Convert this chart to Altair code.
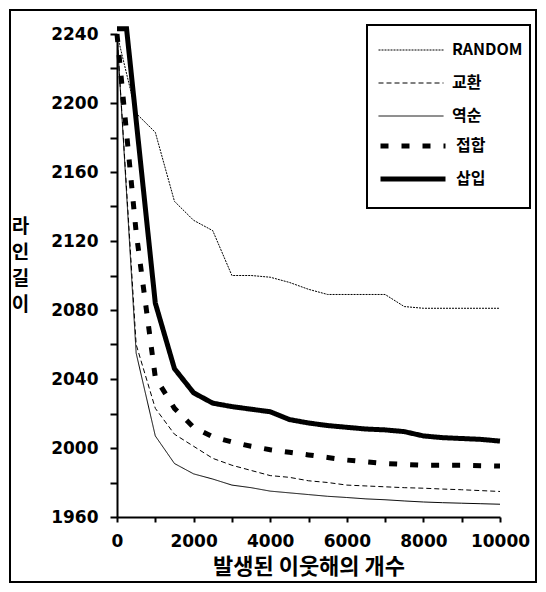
import altair as alt
import pandas as pd

thin_names = ["RANDOM", "교환", "역순"]
thick_names = ["접합", "삽입"]

x_common = [0, 500, 1000, 1500, 2000, 2500, 3000, 3500, 4000, 4500, 5000,
            5500, 6000, 6500, 7000, 7500, 8000, 8500, 9000, 9500, 10000]
x_insert = [0, 250, 1000, 1500, 2000, 2500, 3000, 3500, 4000, 4500, 5000,
            5500, 6000, 6500, 7000, 7500, 8000, 8500, 9000, 9500, 10000]

random_vals = [2240, 2194, 2183, 2143, 2132, 2126, 2100, 2100, 2099, 2096, 2092,
               2089, 2089, 2089, 2089, 2082, 2081, 2081, 2081, 2081, 2081]
swap_vals = [2240, 2060, 2023, 2008, 2001, 1994, 1990, 1987, 1984, 1983, 1981,
             1980, 1978.5, 1978, 1977.5, 1977, 1976.7, 1976.2, 1975.8, 1975.3, 1974.8]
reverse_vals = [2240, 2055, 2007, 1991, 1985, 1982, 1978.5, 1977, 1975, 1974, 1973,
                1972, 1971.3, 1970.5, 1970, 1969.3, 1968.7, 1968.3, 1968, 1967.7, 1967.4]
join_vals = [2240, 2125, 2041, 2023, 2012, 2006.5, 2003.5, 2001, 1999, 1997.5, 1996,
             1994.5, 1993, 1992, 1991, 1990.5, 1990, 1990, 1990, 1989.7, 1989.5]
insert_vals = [2243, 2243, 2084, 2046, 2032, 2026, 2024, 2022.5, 2021, 2016.5, 2014.5,
               2013, 2012, 2011, 2010.5, 2009.5, 2007, 2006, 2005.5, 2005, 2004]

y_ticks = list(range(1960, 2241, 20))
x_ticks = list(range(0, 10001, 1000))


def frame_of(names, xs_list, ys_list):
    rows = []
    for name, xs, ys in zip(names, xs_list, ys_list):
        for xv, yv in zip(xs, ys):
            rows.append({"x": xv, "y": yv, "series": name})
    return pd.DataFrame(rows)


df_thin = frame_of(thin_names, [x_common] * 3, [random_vals, swap_vals, reverse_vals])
df_thick = frame_of(thick_names, [x_common, x_insert], [join_vals, insert_vals])

W, H = 383, 483
PAD = {"left": 109, "top": 26, "right": 38, "bottom": 67}

x_enc = alt.X("x:Q",
              scale=alt.Scale(domain=[0, 10000], nice=False),
              axis=alt.Axis(values=x_ticks, format="d", labelOverlap=False, labelFlush=False,
                            labelExpr="datum.value % 2000 == 0 ? datum.label : ''",
                            title="발생된 이웃해의 개수", titleFontSize=22,
                            tickSize=5, labelPadding=11, titlePadding=7))
y_enc = alt.Y("y:Q",
              scale=alt.Scale(domain=[1960, 2240], nice=False, zero=False),
              axis=alt.Axis(values=y_ticks, format="d", labelOverlap=False, labelFlush=False,
                            labelExpr="datum.value % 40 == 0 ? datum.label : ''",
                            title=["라", "인", "길", "이"],
                            titleAngle=0, titleAlign="center", titleBaseline="top",
                            titleX=-97, titleY=183, titleLineHeight=26,
                            titleFontSize=19,
                            tickSize=7, labelPadding=12))

thin = alt.Chart(df_thin).mark_line(color="black", strokeWidth=1, clip=False).encode(
    x=x_enc, y=y_enc,
    strokeDash=alt.StrokeDash("series:N",
                              scale=alt.Scale(domain=thin_names,
                                              range=[[2, 1], [5, 3], [1, 0]]),
                              legend=alt.Legend(title=None, orient="none",
                                                legendX=261, legendY=5,
                                                symbolStrokeWidth=1)),
    detail="series:N",
)

thick = alt.Chart(df_thick).mark_line(color="black", strokeWidth=5, clip=False).encode(
    x=x_enc, y=y_enc,
    strokeDash=alt.StrokeDash("series:N",
                              scale=alt.Scale(domain=thick_names,
                                              range=[[8, 13], [1, 0]]),
                              legend=alt.Legend(title=None, orient="none",
                                                legendX=261, legendY=101,
                                                symbolStrokeWidth=5)),
    detail="series:N",
)

frame = alt.Chart(df_thin).mark_rect(fill=None, stroke="black", strokeWidth=2).encode(
    x=alt.value(-PAD["left"] + 2), x2=alt.value(W + PAD["right"] - 2),
    y=alt.value(-PAD["top"] + 2), y2=alt.value(H + PAD["bottom"] - 2),
)

legend_box = alt.Chart(df_thin).mark_rect(fill=None, stroke="black", strokeWidth=2).encode(
    x=alt.value(250), x2=alt.value(413), y=alt.value(-9), y2=alt.value(174),
)

chart = alt.layer(thin, thick, legend_box, frame).resolve_scale(
    strokeDash="independent"
).resolve_legend(
    strokeDash="independent"
).properties(
    width=W, height=H,
    autosize=alt.AutoSizeParams(type="none"),
    padding=PAD,
    background="white",
).configure_view(stroke=None).configure_axis(
    domainColor="black", domainWidth=2, tickColor="black", tickWidth=2,
    grid=False, labelFont="DejaVu Sans", labelFontWeight="bold", labelFontSize=17,
    labelColor="black", titleFont="Noto Sans CJK KR", titleFontWeight="bold",
    titleFontSize=23, titleColor="black",
).configure_legend(
    symbolType="stroke", symbolSize=4225, symbolStrokeColor="black",
    labelFont="Noto Sans CJK KR", labelFontWeight="bold",
    labelFontSize=16, labelColor="black",
    padding=0, rowPadding=11, clipHeight=22, labelOffset=8,
)

chart.save("out.html", embed_options={"renderer": "svg", "actions": False})
